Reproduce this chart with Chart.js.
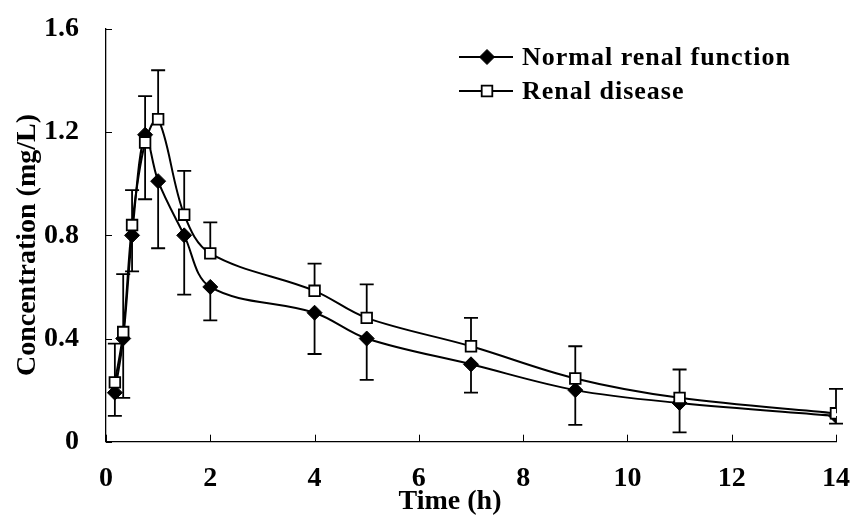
<!DOCTYPE html>
<html>
<head>
<meta charset="utf-8">
<script src="https://cdn.jsdelivr.net/npm/chart.js@4.4.1/dist/chart.umd.min.js"></script>
<style>
html, body { margin: 0; padding: 0; background: #fff; overflow: hidden; }
#pkChart { display: block; }
</style>
</head>
<body>
<canvas id="pkChart" width="851" height="518"></canvas>
<script>
var times = [0.17, 0.33, 0.5, 0.75, 1, 1.5, 2, 4, 5, 7, 9, 11, 14];
var normalConc = [0.19, 0.40, 0.80, 1.19, 1.01, 0.80, 0.60, 0.50, 0.40, 0.30, 0.20, 0.15, 0.10];
var normalLow  = [0.10, 0.17, 0.66, 0.94, 0.75, 0.57, 0.47, 0.34, 0.24, 0.19, 0.065, 0.036, 0.07];
var renalConc  = [0.23, 0.425, 0.84, 1.16, 1.25, 0.88, 0.73, 0.585, 0.48, 0.37, 0.245, 0.17, 0.11];
var renalHigh  = [0.38, 0.65, 0.975, 1.34, 1.44, 1.05, 0.85, 0.69, 0.61, 0.48, 0.37, 0.28, 0.205];
var seriesNames = ['Normal renal function', 'Renal disease'];
var xTitle = 'Time (h)';
var yTitle = 'Concentration (mg/L)';
var xTicks = [0, 2, 4, 6, 8, 10, 12, 14];
var yTicks = [0, 0.4, 0.8, 1.2, 1.6];

var serif = '"Liberation Serif", "Times New Roman", serif';

function pts(vals) {
    return times.map(function(t, i) { return { x: t, y: vals[i] }; });
}

// one-sided error bars, drawn under the markers
var errorBars = {
    id: 'errorBars',
    beforeDatasetsDraw: function(chart) {
        var ctx = chart.ctx, xs = chart.scales.x, ys = chart.scales.y;
        var cap = 7;
        ctx.save();
        ctx.strokeStyle = '#000';
        ctx.lineWidth = 1.8;
        chart.data.datasets.forEach(function(ds) {
            ds.errorEnd.forEach(function(e, i) {
                var px = xs.getPixelForValue(times[i]);
                var p0 = ys.getPixelForValue(ds.data[i].y);
                var p1 = ys.getPixelForValue(e);
                ctx.beginPath();
                ctx.moveTo(px, p0);
                ctx.lineTo(px, p1);
                ctx.moveTo(px - cap, p1);
                ctx.lineTo(px + cap, p1);
                ctx.stroke();
            });
        });
        ctx.restore();
    }
};

// tick marks pointing into the plot + axis titles
var axisExtras = {
    id: 'axisExtras',
    afterDraw: function(chart) {
        var ctx = chart.ctx, xs = chart.scales.x, ys = chart.scales.y, a = chart.chartArea;
        ctx.save();
        ctx.strokeStyle = '#000';
        ctx.lineWidth = 1;
        ctx.beginPath();
        xs.ticks.forEach(function(t) {
            var px = Math.round(xs.getPixelForValue(t.value)) + 0.5;
            ctx.moveTo(px, a.bottom);
            ctx.lineTo(px, a.bottom - 7);
        });
        ys.ticks.forEach(function(t) {
            var py = Math.round(ys.getPixelForValue(t.value)) + 0.5;
            ctx.moveTo(a.left, py);
            ctx.lineTo(a.left + 6, py);
        });
        ctx.stroke();

        ctx.fillStyle = '#000';
        ctx.font = 'bold 28px ' + serif;
        ctx.textAlign = 'center';
        ctx.textBaseline = 'middle';
        ctx.fillText(xTitle, 450, 502);
        ctx.translate(28, 245);
        ctx.rotate(-Math.PI / 2);
        ctx.fillText(yTitle, 0, 0);
        ctx.restore();
    }
};

// legend inside the plot, top right
var boxLegend = {
    id: 'boxLegend',
    afterDraw: function(chart) {
        var ctx = chart.ctx;
        var rows = [57, 91];
        ctx.save();
        chart.data.datasets.forEach(function(ds, i) {
            var y = rows[i];
            ctx.strokeStyle = '#000';
            ctx.lineWidth = 2;
            ctx.beginPath();
            ctx.moveTo(459, y);
            ctx.lineTo(513, y);
            ctx.stroke();
            ctx.fillStyle = ds.pointBackgroundColor;
            ctx.strokeStyle = ds.pointBorderColor;
            ctx.lineWidth = ds.pointBorderWidth;
            Chart.helpers.drawPoint(ctx, {
                pointStyle: ds.pointStyle,
                radius: ds.pointRadius,
                rotation: 0,
                borderWidth: ds.pointBorderWidth
            }, 487, y);
            ctx.fillStyle = '#000';
            ctx.font = 'bold 26px ' + serif;
            ctx.letterSpacing = '1px';
            ctx.textBaseline = 'middle';
            ctx.textAlign = 'left';
            ctx.fillText(seriesNames[i], 522, y + 1);
        });
        ctx.restore();
    }
};

var ctx = document.getElementById('pkChart').getContext('2d');
var pkChart = new Chart(ctx, {
    type: 'line',
    data: {
        datasets: [{
            label: seriesNames[0],
            data: pts(normalConc),
            errorEnd: normalLow,
            borderColor: '#000',
            borderWidth: 2,
            tension: 0.35,
            pointStyle: 'rectRot',
            pointRadius: 7.5,
            pointBackgroundColor: '#000',
            pointBorderColor: '#000',
            pointBorderWidth: 1,
            order: 1
        }, {
            label: seriesNames[1],
            data: pts(renalConc),
            errorEnd: renalHigh,
            borderColor: '#000',
            borderWidth: 2,
            tension: 0.35,
            pointStyle: 'rect',
            pointRadius: 7.5,
            pointBackgroundColor: '#fff',
            pointBorderColor: '#000',
            pointBorderWidth: 1.8,
            order: 0
        }]
    },
    options: {
        responsive: false,
        animation: false,
        events: [],
        layout: { padding: { top: 29, right: 15, left: 0, bottom: 0 } },
        plugins: {
            legend: { display: false },
            tooltip: { enabled: false }
        },
        scales: {
            x: {
                type: 'linear',
                min: 0,
                max: 14,
                afterBuildTicks: function(axis) {
                    axis.ticks = xTicks.map(function(v) { return { value: v }; });
                },
                afterFit: function(s) {
                    s.height = 76.3;
                    s.paddingLeft = 0;
                    s.paddingRight = 0;
                },
                grid: { display: false },
                border: { display: true, color: '#000', width: 1.3 },
                ticks: {
                    color: '#000',
                    padding: 12,
                    maxRotation: 0,
                    font: { family: serif, size: 28, weight: 'bold' },
                    callback: function(v) { return String(v); }
                }
            },
            y: {
                min: 0,
                max: 1.6,
                afterBuildTicks: function(axis) {
                    axis.ticks = yTicks.map(function(v) { return { value: v }; });
                },
                afterFit: function(s) {
                    s.width = 106;
                    s.paddingTop = 0;
                    s.paddingBottom = 0;
                },
                grid: { display: false },
                border: { display: true, color: '#000', width: 1.3 },
                ticks: {
                    color: '#000',
                    padding: 19,
                    font: { family: serif, size: 28, weight: 'bold' },
                    callback: function(v) { return String(v); }
                }
            }
        }
    },
    plugins: [errorBars, axisExtras, boxLegend]
});
</script>
</body>
</html>
